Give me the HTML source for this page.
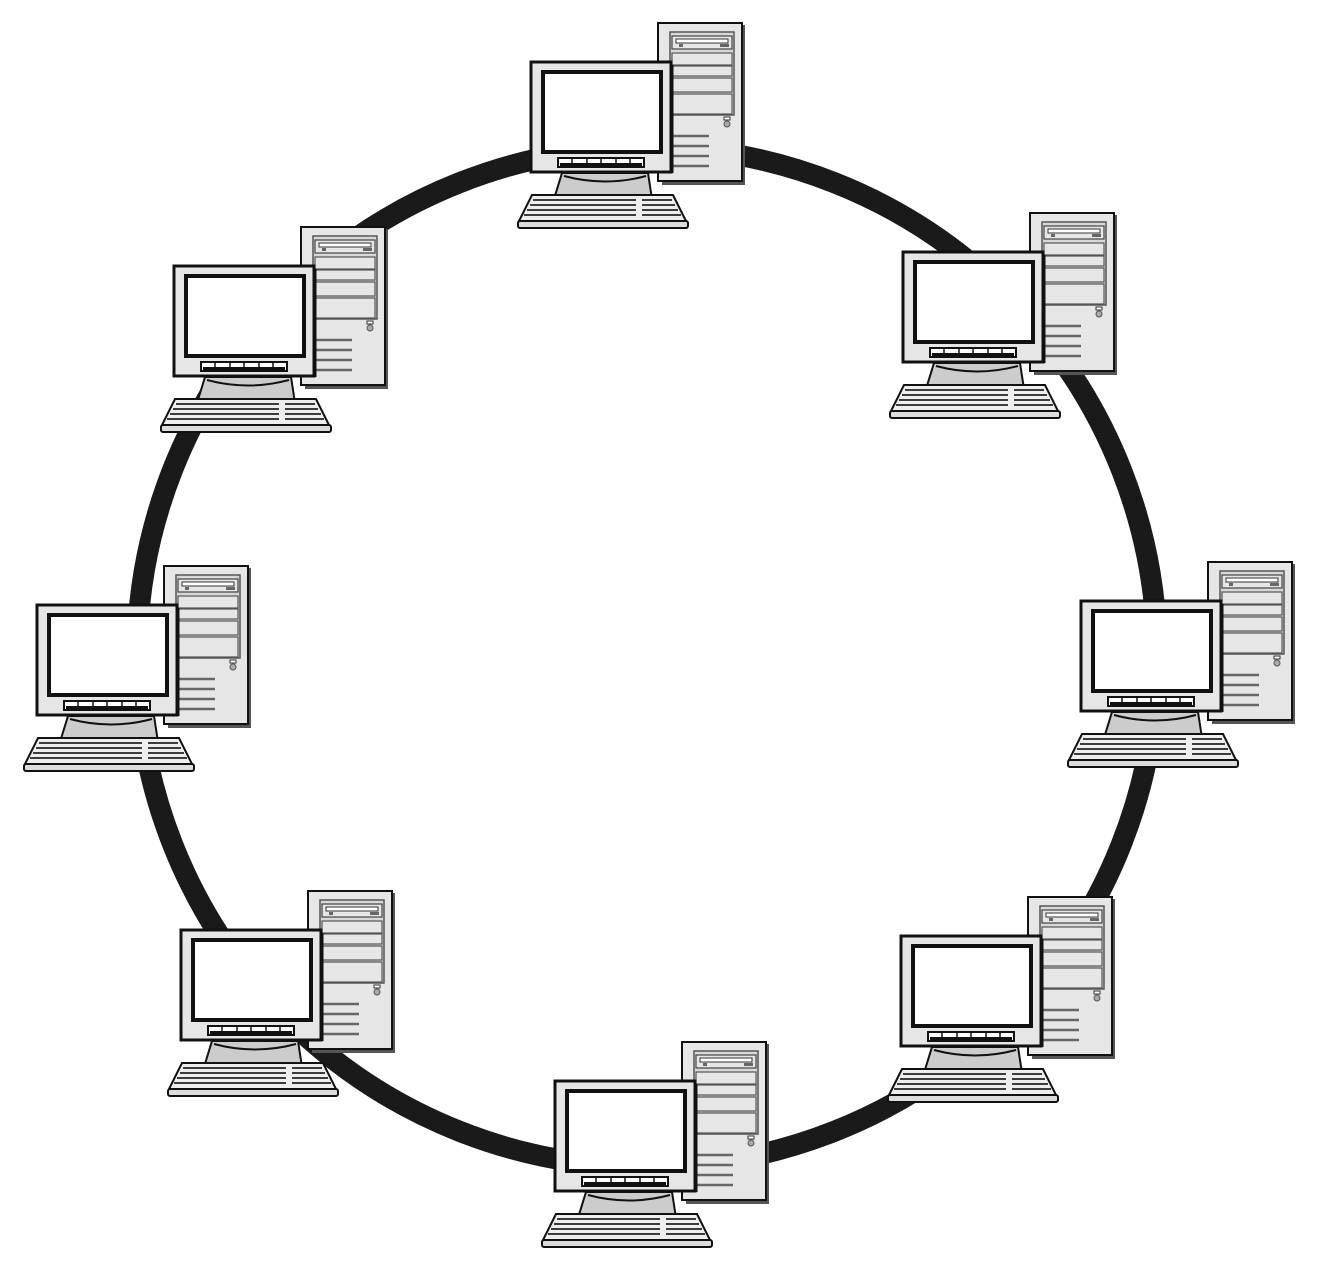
<!DOCTYPE html>
<html><head><meta charset="utf-8"><style>html,body{margin:0;padding:0;background:#fff}svg{display:block}</style></head>
<body>
<svg width="1319" height="1274" viewBox="0 0 1319 1274" xmlns="http://www.w3.org/2000/svg">
<defs>
<g id="pc">
  <!-- tower -->
  <rect x="146" y="2" width="83" height="160" fill="#555"/>
  <rect x="142" y="0" width="84" height="158" fill="#e6e6e6" stroke="#111" stroke-width="2"/>
  <rect x="154" y="9" width="64" height="83" fill="#d8d8d8" stroke="#555" stroke-width="1.5"/>
  <rect x="156" y="13" width="60" height="13" fill="#e6e6e6" stroke="#444" stroke-width="1.2"/>
  <rect x="160" y="16" width="52" height="4" fill="#fff" stroke="#333" stroke-width="1"/>
  <rect x="163" y="21" width="4" height="3" fill="#666"/>
  <rect x="204" y="21" width="9" height="3" fill="#666"/>
  <rect x="156" y="30" width="60" height="12" fill="#e6e6e6" stroke="#555" stroke-width="1.2"/>
  <rect x="156" y="43" width="60" height="10" fill="#e6e6e6" stroke="#555" stroke-width="1.2"/>
  <rect x="156" y="55" width="60" height="14" fill="#e6e6e6" stroke="#555" stroke-width="1.2"/>
  <rect x="156" y="71" width="60" height="20" fill="#e6e6e6" stroke="#555" stroke-width="1.2"/>
  <rect x="208" y="94" width="6" height="3" fill="#fff" stroke="#333" stroke-width="1"/>
  <circle cx="211" cy="101" r="3" fill="#aaa" stroke="#555" stroke-width="1"/>
  <g stroke="#666" stroke-width="2.5">
    <line x1="152" y1="113" x2="193" y2="113"/><line x1="152" y1="123" x2="193" y2="123"/>
    <line x1="152" y1="133" x2="193" y2="133"/><line x1="152" y1="143" x2="193" y2="143"/>
  </g>
  <!-- stand -->
  <path d="M46 150 L132 150 L136 176 L38 176 Z" fill="#ccc" stroke="#111" stroke-width="2"/>
  <path d="M48 153 Q89 164 130 153" fill="none" stroke="#111" stroke-width="2"/>
  <!-- monitor -->
  <rect x="15" y="39" width="140" height="110" fill="#e6e6e6" stroke="#111" stroke-width="3"/>
  <line x1="156" y1="42" x2="156" y2="150" stroke="#111" stroke-width="3"/>
  <rect x="27" y="49" width="118" height="80" fill="#fff" stroke="#111" stroke-width="4"/>
  <rect x="42" y="135" width="86" height="9" fill="#fff" stroke="#111" stroke-width="2"/>
  <g stroke="#111" stroke-width="1.5"><line x1="56" y1="135" x2="56" y2="144"/><line x1="71" y1="135" x2="71" y2="144"/><line x1="85" y1="135" x2="85" y2="144"/><line x1="100" y1="135" x2="100" y2="144"/><line x1="114" y1="135" x2="114" y2="144"/></g>
  <rect x="44" y="140" width="82" height="3" fill="#111"/>
  <!-- keyboard -->
  <path d="M16 172 L157 172 L170 198 L3 198 Z" fill="#eee" stroke="#111" stroke-width="2"/>
  <rect x="2" y="198" width="170" height="7" rx="2" fill="#ddd" stroke="#111" stroke-width="2"/>
  <g stroke="#222" stroke-width="1.8">
    <line x1="17" y1="177" x2="120" y2="177"/><line x1="126" y1="177" x2="156" y2="177"/>
    <line x1="14" y1="182" x2="120" y2="182"/><line x1="126" y1="182" x2="159" y2="182"/>
    <line x1="11" y1="187" x2="120" y2="187"/><line x1="126" y1="187" x2="162" y2="187"/>
    <line x1="8" y1="192" x2="120" y2="192"/><line x1="126" y1="192" x2="165" y2="192"/>
  </g>
</g>
</defs>
<circle cx="647" cy="657" r="510" fill="none" stroke="#1a1a1a" stroke-width="21"/>
<use href="#pc" x="516" y="23"/>
<use href="#pc" x="159" y="227"/>
<use href="#pc" x="888" y="213"/>
<use href="#pc" x="22" y="566"/>
<use href="#pc" x="1066" y="562"/>
<use href="#pc" x="166" y="891"/>
<use href="#pc" x="886" y="897"/>
<use href="#pc" x="540" y="1042"/>
</svg>
</body></html>
